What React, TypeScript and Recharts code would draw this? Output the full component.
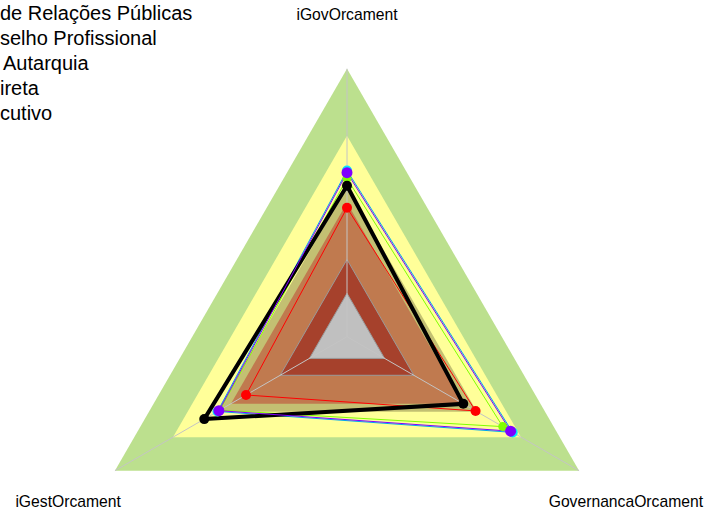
import { PolarAngleAxis, PolarGrid, PolarRadiusAxis, Radar, RadarChart } from "recharts";

const axes = ["iGovOrcament", "GovernancaOrcament", "iGestOrcament"];

// background bands, outer to inner
const bandValues = [1, 0.75, 0.56, 0.5, 0.288, 0.162];
const bandColors = ["#bce08e", "#ffff99", "#c3c072", "#c07a4f", "#a6412c", "#c0c0c0"];

const legendLabels = ["de Relações Públicas", "selho Profissional", "Autarquia", "ireta", "cutivo"];

const cyanValues = [0.62, 0.714, 0.558];
const greenValues = [0.59, 0.671, 0.548];
const redValues = [0.481, 0.554, 0.435];
const blackValues = [0.563, 0.501, 0.615];
const purpleValues = [0.612, 0.705, 0.552];

const data = axes.map((axis, i) => {
  const row: Record<string, string | number> = { axis };
  bandValues.forEach((v, b) => {
    row["band" + b] = v;
  });
  row.cyan = cyanValues[i];
  row.green = greenValues[i];
  row.red = redValues[i];
  row.black = blackValues[i];
  row.purple = purpleValues[i];
  return row;
});

const CX = 347;
const CY = 336.7;
const R = 268;
const font = "'Liberation Sans', Arial, sans-serif";

function AxisTick(props: any) {
  const angle = ((props.payload?.coordinate ?? 90) * Math.PI) / 180;
  const dx = Math.cos(angle);
  const dy = -Math.sin(angle);
  const x = CX + dx * 322;
  const y = CY + dy * 322 + (dy > 0 ? 4 : 0);
  return (
    <text x={x} y={y} textAnchor="middle" dominantBaseline="central" fontSize={15.7} fontFamily={font} fill="#000">
      {props.payload?.value}
    </text>
  );
}

const series = [
  { key: "cyan", stroke: "#00a8f0", dot: "#00e8ff", width: 1, r: 5 },
  { key: "green", stroke: "#80ff00", dot: "#80ff00", width: 1, r: 4.5 },
  { key: "red", stroke: "#ff0000", dot: "#ff0000", width: 1, r: 5 },
  { key: "black", stroke: "#000000", dot: "#000000", width: 4, r: 5 },
  { key: "purple", stroke: "#8000ff", dot: "#8000ff", width: 1, r: 5.5 },
];

export default function App() {
  return (
    <div style={{ position: "absolute", left: 0, top: 0, width: 707, height: 509, background: "#fff", overflow: "hidden" }}>
      <RadarChart width={707} height={509} data={data} cx={CX} cy={CY} outerRadius={R} margin={{ top: 0, right: 0, bottom: 0, left: 0 }}>
        <PolarRadiusAxis domain={[0, 1]} tick={false} axisLine={false} />
        <PolarAngleAxis dataKey="axis" tick={<AxisTick />} axisLine={false} tickLine={false} />
        {bandValues.map((_, b) => (
          <Radar
            key={"band" + b}
            dataKey={"band" + b}
            fill={bandColors[b]}
            fillOpacity={1}
            stroke={b >= 4 ? "#9a9a9a" : "none"}
            strokeWidth={1}
            dot={false}
            legendType="none"
            isAnimationActive={false}
            zIndex={100}
          />
        ))}
        <PolarGrid gridType="polygon" polarRadius={[]} stroke="#c4c4c4" zIndex={150} />
        {series.map((s) => (
          <Radar
            key={s.key}
            dataKey={s.key}
            stroke={s.stroke}
            strokeWidth={s.width}
            fill="none"
            fillOpacity={0}
            dot={{ r: s.r, fill: s.dot, stroke: "none", fillOpacity: 1 }}
            isAnimationActive={false}
            zIndex={200}
          />
        ))}
      </RadarChart>
      <div style={{ position: "absolute", left: 0, top: 1, fontFamily: font, fontSize: 20, lineHeight: "25px", color: "#000", whiteSpace: "nowrap" }}>
        {legendLabels.map((label, i) => (
          <div key={label} style={{ marginLeft: i === 2 ? 3 : 0 }}>
            {label}
          </div>
        ))}
      </div>
    </div>
  );
}
